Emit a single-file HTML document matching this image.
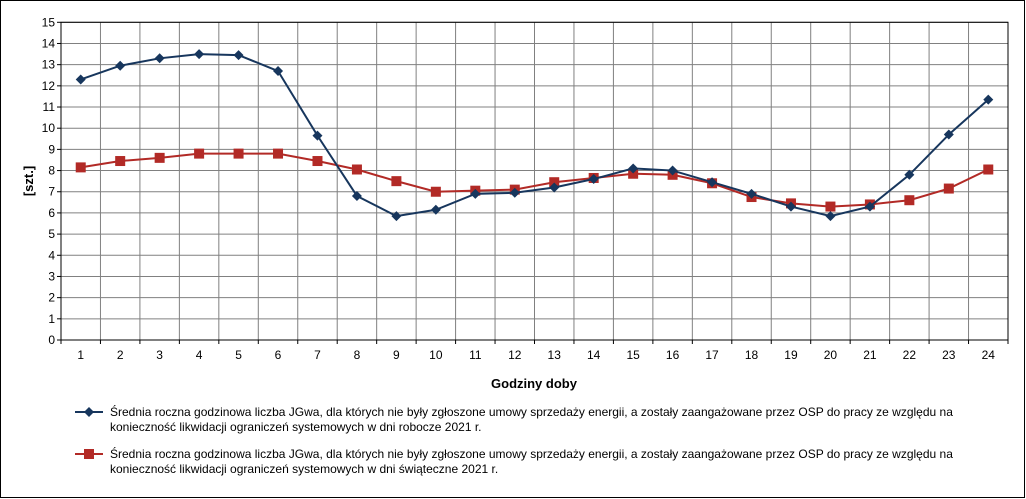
<!DOCTYPE html>
<html><head><meta charset="utf-8"><style>
body{margin:0;background:#fff}
svg{display:block;font-family:"Liberation Sans",Arial,sans-serif}
</style></head><body>
<svg id="c" width="1026" height="499" xmlns="http://www.w3.org/2000/svg">
<rect x="0.5" y="0.5" width="1024" height="497" fill="#fff" stroke="#000"/>
<g id="grid"></g>
<g id="axes"></g>
<g id="series"></g>
<text x="33" y="181" transform="rotate(-90 33 181)" text-anchor="middle" font-size="13" font-weight="bold">[szt.]</text>
<text x="534" y="388" text-anchor="middle" font-size="13" font-weight="bold">Godziny doby</text>
<g>
<g>
<line x1="75" y1="412" x2="103" y2="412" stroke="#17365d" stroke-width="2"/>
<path d="M89 407 L94 412 L89 417 L84 412 Z" fill="#17365d"/>
<text x="110" y="416" font-size="12">Średnia roczna godzinowa liczba JGwa, dla których nie były zgłoszone umowy sprzedaży energii, a zostały zaangażowane przez OSP do pracy ze względu na</text>
<text x="110" y="431" font-size="12">konieczność likwidacji ograniczeń systemowych w dni robocze 2021 r.</text>
</g>
<g>
<line x1="75" y1="454" x2="103" y2="454" stroke="#b22a26" stroke-width="2"/>
<rect x="84" y="449" width="10" height="10" fill="#b22a26"/>
<text x="110" y="458" font-size="12">Średnia roczna godzinowa liczba JGwa, dla których nie były zgłoszone umowy sprzedaży energii, a zostały zaangażowane przez OSP do pracy ze względu na</text>
<text x="110" y="473" font-size="12">konieczność likwidacji ograniczeń systemowych w dni świąteczne 2021 r.</text>
</g>
</g>
</svg>
<script>
const categories=[1,2,3,4,5,6,7,8,9,10,11,12,13,14,15,16,17,18,19,20,21,22,23,24];
const workdays=[12.3,12.95,13.3,13.5,13.45,12.7,9.65,6.8,5.85,6.15,6.9,6.95,7.2,7.6,8.1,8.0,7.45,6.9,6.3,5.85,6.3,7.8,9.7,11.35];
const holidays=[8.15,8.45,8.6,8.8,8.8,8.8,8.45,8.05,7.5,7.0,7.05,7.1,7.45,7.65,7.85,7.8,7.4,6.75,6.45,6.3,6.4,6.6,7.15,8.05];
const yTicks=[0,1,2,3,4,5,6,7,8,9,10,11,12,13,14,15];
const NS="http://www.w3.org/2000/svg";
const L=61,R=1008,T=22.3,B=340,yMax=15;
const step=(R-L)/categories.length;
const xPos=i=>L+step*(i+0.5);
const yPos=v=>B-(v/yMax)*(B-T);
function mk(tag,attrs,parent,txt){const e=document.createElementNS(NS,tag);for(const k in attrs)e.setAttribute(k,attrs[k]);if(txt!==undefined)e.textContent=txt;parent.appendChild(e);return e;}
const grid=document.getElementById('grid'),axes=document.getElementById('axes'),ser=document.getElementById('series');
yTicks.forEach(t=>{const y=yPos(t);
 const g=mk('line',{x1:L,x2:R,y1:y,y2:y,stroke:'#808080','stroke-width':1},grid);
 
 
 mk('line',{x1:L-4,x2:L,y1:y,y2:y,stroke:'#000'},axes);
 const tx=mk('text',{x:L-6,y:y+4,'text-anchor':'end','font-size':12},axes,String(t));
 
 
});
for(let i=0;i<=categories.length;i++){const x=L+step*i;
 if(i>0&&i<categories.length){const g=mk('line',{x1:x,x2:x,y1:T,y2:B,stroke:'#808080'},grid);
 
 }
 mk('line',{x1:x,x2:x,y1:B,y2:B+4,stroke:'#000'},axes);
}
mk('rect',{x:L,y:T,width:R-L,height:B-T,fill:'none',stroke:'#000'},axes);
categories.forEach((c,i)=>{const tx=mk('text',{x:xPos(i),y:359,'text-anchor':'middle','font-size':12},axes,String(c));
 
 });
function series(vals,color,shape,name){
 const pl=mk('polyline',{points:vals.map((v,i)=>xPos(i)+','+yPos(v)).join(' '),fill:'none',stroke:color,'stroke-width':2},ser);
 
 
 vals.forEach((v,i)=>{const x=xPos(i),y=yPos(v);let m;
  if(shape==='d')m=mk('path',{d:`M${x} ${y-5}L${x+5} ${y}L${x} ${y+5}L${x-5} ${y}Z`,fill:color},ser);
  else m=mk('rect',{x:x-5,y:y-5,width:10,height:10,fill:color},ser);
  
  });
}
series(holidays,'#b22a26','s','holidays');
series(workdays,'#17365d','d','workdays');
</script>
</body></html>
